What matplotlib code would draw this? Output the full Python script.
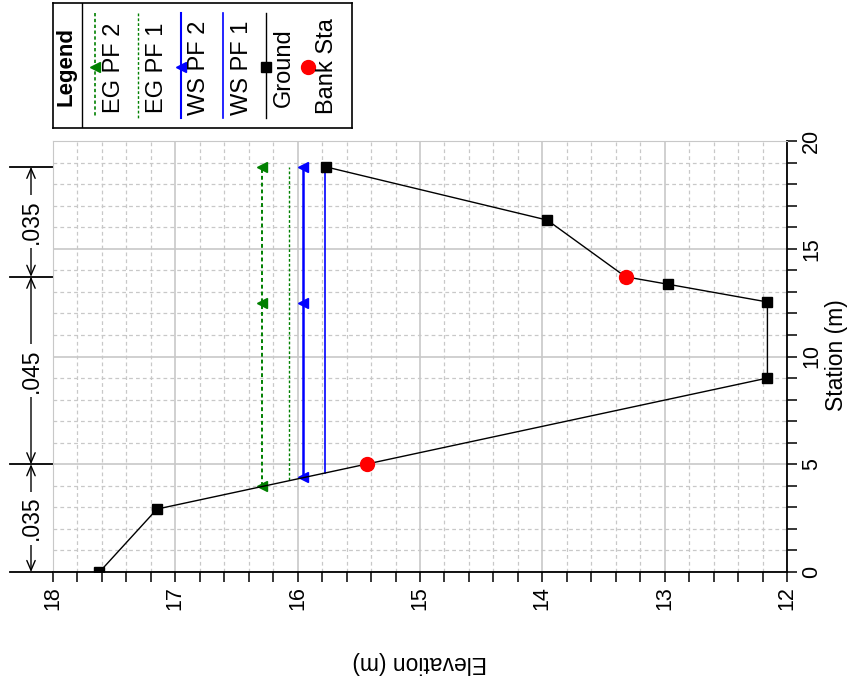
import matplotlib
matplotlib.use('Agg')
import matplotlib.pyplot as plt
import matplotlib.transforms as mtransforms
from matplotlib.ticker import MultipleLocator

plt.rcParams['font.family'] = ['Liberation Sans', 'DejaVu Sans']

# ground profile (station m, elevation m)
ground_sta = [0.0, 2.92, 9.0, 12.53, 13.35, 13.7, 16.33, 18.8]
ground_elev = [17.62, 17.15, 12.16, 12.16, 12.97, 13.32, 13.96, 15.77]

# bank stations
bank_sta = [5.0, 13.7]
bank_elev = [15.43, 13.32]

# water surface / energy grade lines
ws1_sta = [4.61, 18.8]
ws1_elev = [15.78, 15.78]
ws2_sta = [4.4, 12.5, 18.8]
ws2_elev = [15.96, 15.96, 15.96]
eg1_sta = [4.27, 18.8]
eg1_elev = [16.07, 16.07]
eg2_sta = [4.0, 12.5, 18.8]
eg2_elev = [16.29, 16.29, 16.29]

# manning's n
n_breaks = [0.0, 5.0, 13.7, 18.8]
n_values = ['.035', '.045', '.035']

W, H = 865, 690
fig = plt.figure(figsize=(W / 100, H / 100), dpi=100)
ax = fig.add_axes([53 / W, 1 - 572 / H, (787 - 53) / W, (572 - 141) / H])

grey = '#c8c8c8'
# rotated plot: elevation runs horizontally (reversed), station vertically
ax.plot(eg2_elev, eg2_sta, color='green', ls=(0, (2, 1.5)), lw=1.4,
        marker='<', ms=7, zorder=3)
ax.plot(eg1_elev, eg1_sta, color='green', ls=(0, (2, 1.5)), lw=1.0, zorder=3)
ax.plot(ws2_elev, ws2_sta, color='blue', lw=1.8, marker='<', ms=7, zorder=3)
ax.plot(ws1_elev, ws1_sta, color='blue', lw=1.2, zorder=3)
ax.plot(ground_elev, ground_sta, color='black', lw=1.0, marker='s', ms=6.5,
        zorder=4)
ax.plot(bank_elev, bank_sta, ls='none', marker='o', color='red', ms=10,
        zorder=5)

ax.set_xlim(18, 12)
ax.set_ylim(0, 20)
ax.xaxis.set_major_locator(MultipleLocator(1))
ax.xaxis.set_minor_locator(MultipleLocator(0.2))
ax.yaxis.set_major_locator(MultipleLocator(5))
ax.yaxis.set_minor_locator(MultipleLocator(1))
ax.yaxis.tick_right()
ax.grid(which='major', color=grey, lw=1.2, ls='-')
ax.grid(which='minor', color=grey, lw=0.9, ls=(0, (3, 2.5)))
ax.set_axisbelow(True)
for s in ['top', 'left']:
    ax.spines[s].set_color(grey)
for s in ['bottom', 'right']:
    ax.spines[s].set_linewidth(1.3)
ax.tick_params(which='both', direction='out', length=7, width=1.1,
               labelsize=15.5)
ax.tick_params(axis='x', which='both', labelrotation=90, pad=3)
ax.tick_params(axis='y', which='both', labelrotation=90, pad=3)
for lab in ax.get_yticklabels():
    lab.set_va('center')
ax.set_xlabel('Elevation (m)', fontsize=16.5, rotation=180, labelpad=30)
fig.text(836 / W, 1 - 355 / H, 'Station (m)', fontsize=16.5, rotation=90,
         ha='center', va='center')

# manning's n annotations on the left side
bt = mtransforms.blended_transform_factory(ax.transAxes, ax.transData)
x_line = (31 - 53) / (787 - 53)
x_start = (10 - 53) / (787 - 53)
for st in n_breaks:
    ax.plot([x_start, 0], [st, st], color='black', lw=1.3, transform=bt,
            clip_on=False)
for i, nv in enumerate(n_values):
    lo, hi = n_breaks[i], n_breaks[i + 1]
    ax.annotate('', xy=(x_line, lo), xytext=(x_line, hi), xycoords=bt,
                textcoords=bt,
                arrowprops=dict(arrowstyle='<->,head_length=0.7,head_width=0.3',
                                color='black', lw=1.0, shrinkA=0, shrinkB=0))
    ax.text(x_line, (lo + hi) / 2, nv, transform=bt, rotation=90,
            ha='center', va='center', fontsize=16.5,
            bbox=dict(facecolor='white', edgecolor='none', pad=3))

# legend box
lax = fig.add_axes([53 / W, 1 - 128 / H, (352 - 53) / W, (128 - 3) / H])
lax.set_xlim(53, 352)
lax.set_ylim(128, 3)
lax.set_xticks([])
lax.set_yticks([])
for s in lax.spines.values():
    s.set_linewidth(1.2)
lax.axvline(82, color='black', lw=1.0)
lax.text(66, 66, 'Legend', rotation=90, ha='center', va='center',
         fontsize=16, fontweight='bold')

entries = [
    ('EG PF 2', 95, 114, dict(color='green', ls=(0, (2, 1.5)), lw=1.2), '<'),
    ('EG PF 1', 138, 157, dict(color='green', ls=(0, (2, 1.5)), lw=1.0), None),
    ('WS PF 2', 181, 199, dict(color='blue', lw=1.5), '<'),
    ('WS PF 1', 223, 242, dict(color='blue', lw=1.2), None),
    ('Ground', 266, 284, dict(color='black', lw=1.0), 's'),
]
for label, xl, xt, style, mk in entries:
    lax.plot([xl, xl], [13, 118], **style)
    if mk is not None:
        lax.plot([xl], [67], marker=mk, color=style['color'], ms=7)
    lax.text(xt, 68, label, rotation=90, ha='center', va='center',
             fontsize=17)
lax.plot([308], [67], marker='o', color='red', ms=10)
lax.text(327, 66, 'Bank Sta', rotation=90, ha='center', va='center',
         fontsize=17)

fig.savefig('out.png', dpi=100)
